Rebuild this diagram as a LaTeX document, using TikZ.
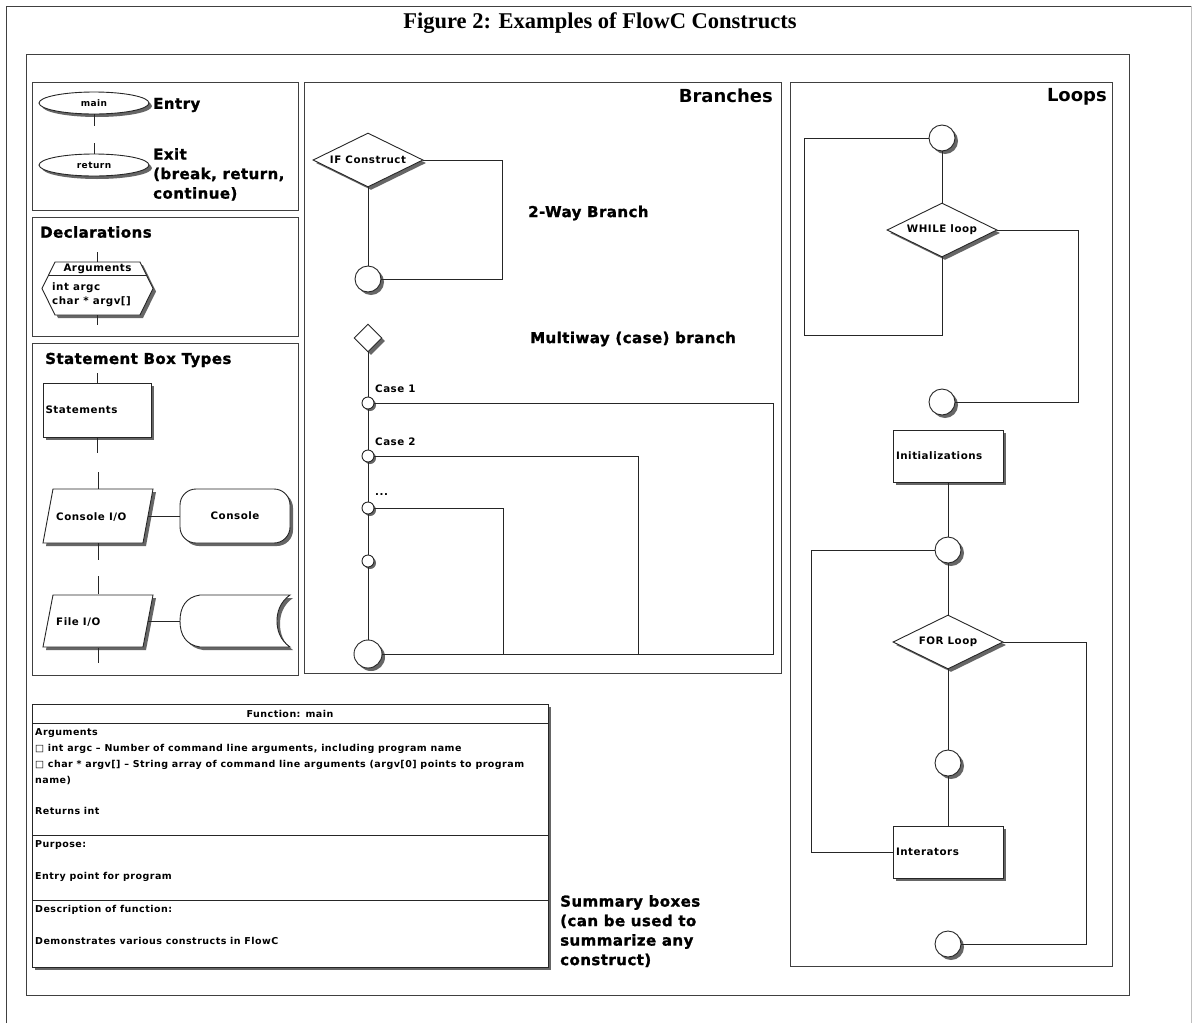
\documentclass[tikz,border=0pt]{standalone}
\usepackage{fontspec}
\setmainfont{DejaVu Sans}
\newfontfamily\titlefont{Liberation Serif}
\newfontfamily\heavyfont{DejaVu Sans}[LetterSpace=3, BoldFeatures={FakeBold=1.3}]
\newfontfamily\smallfont{DejaVu Sans}[LetterSpace=5]
\usetikzlibrary{shapes.geometric,shadows}
\tikzset{
  ln/.style={draw=black!85, line width=0.9pt},
  frame/.style={draw=black!75, line width=1pt},
  shd/.style={drop shadow={shadow xshift=3pt,shadow yshift=-3pt,fill=black!60,opacity=1}},
  shds/.style={drop shadow={shadow xshift=2pt,shadow yshift=-2pt,fill=black!60,opacity=1}},
  lbl/.style={inner sep=0pt},
  bigtxt/.style={font=\heavyfont\fontsize{15}{19.5}\selectfont\bfseries},
  hugetxt/.style={font=\fontsize{18}{22}\selectfont\bfseries},
  smalltxt/.style={font=\smallfont\fontsize{10.3}{12}\selectfont\bfseries},
  fntxt/.style={font=\smallfont\fontsize{9.5}{12}\selectfont\bfseries, inner sep=0pt, anchor=west},
  ell/.style={ellipse, ln, fill=white, shd, minimum width=110pt, minimum height=22pt, inner sep=0pt, font=\smallfont\fontsize{9}{10}\selectfont\bfseries},
  circ/.style={circle, ln, fill=white, shd, minimum size=26pt, inner sep=0pt},
  scirc/.style={circle, ln, fill=white, shds, minimum size=12pt, inner sep=0pt},
  dia/.style={diamond, ln, fill=white, shd, aspect=2, minimum width=110pt, minimum height=54pt, inner sep=0pt, smalltxt},
  rbox/.style={rectangle, ln, fill=white, shd, minimum width=110pt, minimum height=52pt, inner sep=2pt, text width=104pt, align=left, smalltxt},
  ghost/.style={rectangle, draw=none, inner sep=0pt},
  shp/.style={ln, fill=white, shd}
}
\begin{document}
\begin{tikzpicture}[x=1pt,y=-1pt]
\useasboundingbox (0,0) rectangle (1193,1023);
\fill[white] (0,0) rectangle (1193,1023);

% outer and inner frames
\draw[black!75, line width=1pt] (6,1023) -- (6,6) -- (1191,6);
\draw[black!25, line width=0.8pt] (1191,6) -- (1191,1023);
\node[font=\titlefont\bfseries\fontsize{22.5}{26}\selectfont] (title) at (600,23) {Figure 2: Examples of FlowC Constructs};
\draw[frame] (26,54) rectangle (1129,995);

% ---------- Entry / Exit panel ----------
\draw[frame] (32,82) rectangle (298,210);
\node[ell] (main) at (94,103) {main};
\node[ell] (ret) at (94,165) {return};
\draw[ln] (main.south) -- ++(0,12);
\draw[ln] (ret.north) -- ++(0,-11);
\node[bigtxt, lbl, anchor=west] (entry) at (153,105) {Entry};
\node[bigtxt, lbl, anchor=north west, align=left] (exit) at (153,148) {Exit\\(break, return,\\continue)};

% ---------- Declarations panel ----------
\draw[frame] (32,217) rectangle (298,336);
\node[bigtxt, lbl, anchor=west] (decl) at (40,232) {Declarations};
\node[ghost, minimum width=111pt, minimum height=53pt] (args) at (97.5,288.5) {};
\path[shp] (55,262) -- (140,262) -- (153,288.5) -- (140,315) -- (55,315) -- (42,288.5) -- cycle;
\draw[ln] (48.5,275) -- (146.5,275);
\node[smalltxt, lbl] (argh) at (97.5,269) {Arguments};
\node[smalltxt, lbl, anchor=west] (arg1) at (52,288) {int argc};
\node[smalltxt, lbl, anchor=west] (arg2) at (52,302) {char * argv[]};
\draw[ln] (args.north) -- ++(0,-10);
\draw[ln] (args.south) -- ++(0,10);

% ---------- Statement box types ----------
\draw[frame] (32,343) rectangle (298,675);
\node[bigtxt, lbl, anchor=west] (sbt) at (45,360) {Statement Box Types};
\node[rbox, minimum width=108pt, minimum height=54pt, text width=103pt] (stm) at (97,410) {Statements};
\draw[ln] (stm.north) -- ++(0,-10);
\draw[ln] (stm.south) -- ++(0,16);

\node[ghost, minimum width=110pt, minimum height=54pt] (cio) at (98,516) {};
\path[shp] (53,489) -- (153,489) -- (143,543) -- (43,543) -- cycle;
\node[smalltxt, lbl, anchor=west] (ciot) at (56,517) {Console I/O};
\draw[ln] (cio.north) -- ++(0,-17);
\draw[ln] (cio.south) -- ++(0,17);
\node[rectangle, rounded corners=16pt, shp, minimum width=110pt, minimum height=54pt, smalltxt] (con) at (235,516) {Console};
\draw[ln] ([xshift=-5pt]cio.east) -- (con.west);

\node[ghost, minimum width=110pt, minimum height=53pt] (fio) at (98,621) {};
\path[shp] (53,595) -- (153,595) -- (143,647) -- (43,647) -- cycle;
\node[smalltxt, lbl, anchor=west] (fiot) at (56,622) {File I/O};
\draw[ln] (fio.north) -- ++(0,-18);
\draw[ln] (fio.south) -- ++(0,15);
\node[ghost, minimum width=110pt, minimum height=53pt] (fst) at (235,621) {};
\path[shp] (200,595) -- (290,595) .. controls (280,602) and (277,612) .. (277,621)
  .. controls (277,630) and (280,640) .. (290,647) -- (200,647)
  .. controls (186,645) and (180,635) .. (180,621)
  .. controls (180,607) and (186,597) .. (200,595) -- cycle;
\draw[ln] ([xshift=-5pt]fio.east) -- (fst.west);

% ---------- Branches ----------
\draw[frame] (304,82) rectangle (781,673);
\node[hugetxt, lbl, anchor=east] (brt) at (773,96) {Branches};
\node[dia] (if) at (368,160) {IF Construct};
\node[circ] (ifj) at (368,279) {};
\draw[ln] (if.south) -- (ifj.north);
\draw[ln] (if.east) -- ++(79,0) |- (ifj.east);
\node[bigtxt, lbl, anchor=west] (twoway) at (528,213) {2-Way Branch};

\node[dia, minimum width=28pt, minimum height=28pt] (sw) at (368,338) {};
\node[bigtxt, lbl, anchor=west] (multi) at (530,339) {Multiway (case) branch};
\node[scirc] (c1) at (368,403) {};
\node[scirc] (c2) at (368,456) {};
\node[scirc] (c3) at (368,508) {};
\node[scirc] (c4) at (368,561) {};
\node[circ, minimum size=28pt] (cend) at (368,654) {};
\draw[ln] (sw.south) -- (c1.north);
\draw[ln] (c1.south) -- (c2.north);
\draw[ln] (c2.south) -- (c3.north);
\draw[ln] (c3.south) -- (c4.north);
\draw[ln] (c4.south) -- (cend.north);
\draw[ln] (c1.east) -- ++(399,0) |- (cend.east);
\draw[ln] (c2.east) -- ++(264,0) |- (cend.east);
\draw[ln] (c3.east) -- ++(129,0) |- (cend.east);
\node[smalltxt, lbl, anchor=west] (case1) at (375,389) {Case 1};
\node[smalltxt, lbl, anchor=west] (case2) at (375,442) {Case 2};
\node[smalltxt, lbl, anchor=west] (case3) at (375,495) {...};

% ---------- Loops ----------
\draw[frame] (790,82) rectangle (1112,966);
\node[hugetxt, lbl, anchor=east] (loopst) at (1107,97) {Loops};
\node[circ] (w1) at (942,138) {};
\node[dia] (wd) at (942,230) {WHILE loop};
\node[circ] (w2) at (942,402) {};
\coordinate (wl) at (804,335);
\draw[ln] (w1.south) -- (wd.north);
\draw[ln] (w1.west) -| (wl) -| (wd.south);
\draw[ln] (wd.east) -- ++(81,0) |- (w2.east);

\node[rbox] (init) at (948,456) {Initializations};
\node[circ] (f1) at (948,550) {};
\node[dia] (fd) at (948,642) {FOR Loop};
\node[circ] (f2) at (948,763) {};
\node[rbox] (iter) at (948,852) {Interators};
\node[circ] (f3) at (948,944) {};
\draw[ln] (init.south) -- (f1.north);
\draw[ln] (f1.south) -- (fd.north);
\draw[ln] (fd.south) -- (f2.north);
\draw[ln] (f2.south) -- (iter.north);
\draw[ln] (f1.west) -- ++(-123,0) |- (iter.west);
\draw[ln] (fd.east) -- ++(83,0) |- (f3.east);

% ---------- Summary box ----------
\node[rectangle, shp, minimum width=516pt, minimum height=263pt, inner sep=0pt] (fn) at (290,835.5) {};
\draw[ln] (32,723) -- (548,723);
\draw[ln] (32,835) -- (548,835);
\draw[ln] (32,900) -- (548,900);
\node[font=\smallfont\fontsize{9.5}{12}\selectfont\bfseries, inner sep=0pt] (fnh) at (290,714) {Function: main};
\node[fntxt] (t1) at (35,733) {Arguments};
\node[fntxt] (t2) at (35,749) {□ int argc – Number of command line arguments, including program name};
\node[fntxt] (t3) at (35,765) {□ char * argv[] – String array of command line arguments (argv[0] points to program};
\node[fntxt] (t4) at (35,781) {name)};
\node[fntxt] (t5) at (35,811) {Returns int};
\node[fntxt] (t6) at (35,845) {Purpose:};
\node[fntxt] (t7) at (35,877) {Entry point for program};
\node[fntxt] (t8) at (35,910) {Description of function:};
\node[fntxt] (t9) at (35,941) {Demonstrates various constructs in FlowC};
\node[bigtxt, lbl, anchor=north west, align=left] (summ) at (560,895) {Summary boxes\\(can be used to\\summarize any\\construct)};
\end{tikzpicture}
\end{document}
